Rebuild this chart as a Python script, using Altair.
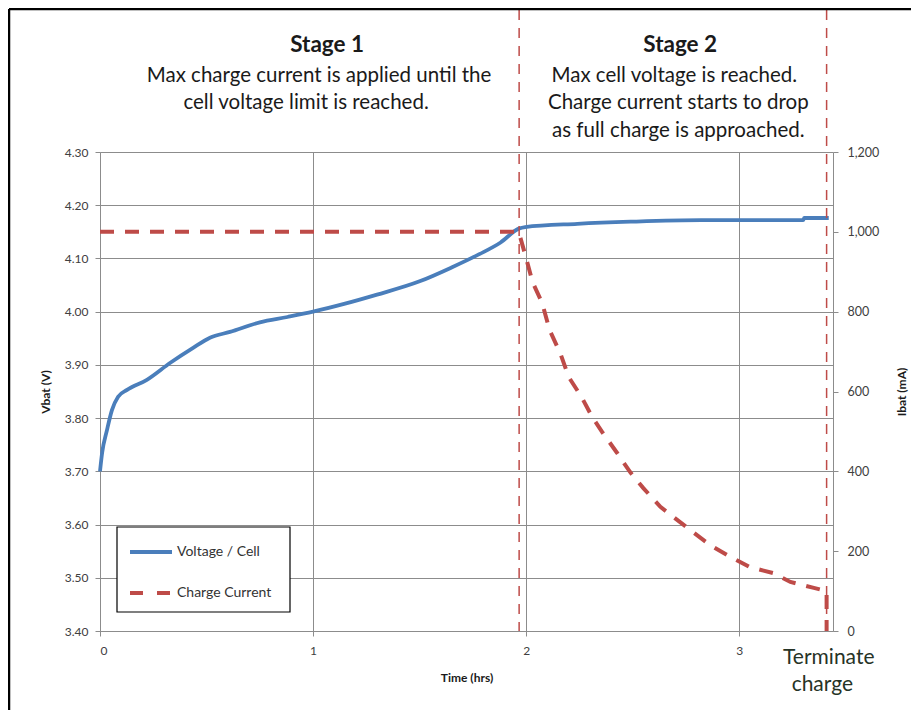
import altair as alt
import pandas as pd

# ---------------- data ----------------
time_v = [0, 0.01, 0.033, 0.056, 0.085, 0.127, 0.22, 0.33, 0.437, 0.516, 0.61, 0.75, 0.88,
          1.0, 1.15, 1.3, 1.5, 1.65, 1.78, 1.88, 1.965, 1.995, 2.24, 2.49, 2.82, 3.30, 3.305, 3.42]
volt = [3.70, 3.735, 3.778, 3.815, 3.84, 3.853, 3.872, 3.904, 3.932, 3.951, 3.962, 3.98, 3.99,
        4.00, 4.015, 4.032, 4.057, 4.083, 4.108, 4.13, 4.156, 4.159, 4.165, 4.169, 4.172, 4.172, 4.176, 4.176]

time_i = [0, 1.965, 2.0, 2.03, 2.075, 2.11, 2.16, 2.2, 2.26, 2.31, 2.36, 2.427, 2.488, 2.55,
          2.63, 2.69, 2.77, 2.864, 2.96, 3.05, 3.16, 3.24, 3.35, 3.41, 3.41]
curr = [1000, 1000, 934, 874, 822, 754, 696, 636, 586, 536, 496, 446, 398, 358,
        311, 286, 253, 215, 185, 160, 145, 123, 108, 100, 0]

series_names = ["Voltage / Cell", "Charge Current"]
stage_times = [1.967, 3.41]

stage_titles = ["Stage 1", "Stage 2"]
stage1_lines = ["Max charge current is applied until the", "cell voltage limit is reached."]
stage2_lines = ["Max cell voltage is reached.", "Charge current starts to drop", "as full charge is approached."]
end_lines = ["Terminate", "charge"]

v_ticks = [3.4, 3.5, 3.6, 3.7, 3.8, 3.9, 4.0, 4.1, 4.2, 4.3]
i_ticks = [0, 200, 400, 600, 800, 1000, 1200]
t_ticks = [0, 1, 2, 3]

# ---------------- layout / style ----------------
W, H = 733, 479
FONT = "Lato"
BLUE = "#4A7EBB"
RED = "#BE4B48"
GRID = "#8C8C8C"

title_pos = [(1.066, -107), (2.723, -107)]
s1_pos = [(1.028, -76), (0.967, -49)]
s2_pos = [(2.695, -76), (2.714, -49), (2.714, -21)]
end_pos = [(3.42, 506), (3.39, 533)]

# legend box geometry (plot-area pixels)
LEG_X0, LEG_X1, LEG_Y0, LEG_Y1 = 17, 190, 375, 460
LEG_SYM_X0, LEG_SYM_X1, LEG_TXT_X = 30, 72, 77
LEG_ROWS = [400, 441]

df_v = pd.DataFrame({"t": time_v, "val": volt, "series": series_names[0]})
df_i = pd.DataFrame({"t": time_i, "val": curr, "series": series_names[1]})
df_rules = pd.DataFrame({"t": stage_times})
df_one = pd.DataFrame({"k": [0]})

def text_df(lines, pos):
    return pd.DataFrame({"text": lines, "t": [p[0] for p in pos], "py": [p[1] for p in pos]})

x_scale = alt.Scale(domain=[0, 3.44], nice=False, zero=False)

x_enc = alt.X("t:Q", scale=x_scale,
              axis=alt.Axis(values=t_ticks, title="Time (hrs)", format="d", grid=True,
                            labelPadding=9, titlePadding=16))

volt_line = alt.Chart(df_v).mark_line(strokeWidth=3.8, interpolate="monotone", color=BLUE).encode(
    x=x_enc,
    y=alt.Y("val:Q", scale=alt.Scale(domain=[3.4, 4.3], nice=False, zero=False),
            axis=alt.Axis(values=v_ticks, format=".2f", title="Vbat (V)", grid=True,
                          labelPadding=7, titlePadding=12)),
)

curr_line = alt.Chart(df_i).mark_line(strokeWidth=4, color=RED, strokeDash=[14, 11]).encode(
    x=alt.X("t:Q", scale=x_scale),
    y=alt.Y("val:Q", scale=alt.Scale(domain=[0, 1200], nice=False),
            axis=alt.Axis(values=i_ticks, format=",.0f", title="Ibat (mA)", orient="right",
                          grid=False, labelPadding=9, titlePadding=30, titleAngle=270,
                          labelFontSize=12.5)),
)

rules = alt.Chart(df_rules).mark_rule(color=RED, strokeWidth=1.5, strokeDash=[10, 8]).encode(
    x=alt.X("t:Q", scale=x_scale),
    y=alt.value(-142), y2=alt.value(H),
)

def text_layer(df, size, weight="normal", color="#1a1a1a"):
    return alt.Chart(df).mark_text(font=FONT, fontSize=size, fontWeight=weight, color=color,
                                   align="center", baseline="middle").encode(
        x=alt.X("t:Q", scale=x_scale),
        y=alt.Y("py:Q", scale=None),
        text="text:N",
    )

titles = text_layer(text_df(stage_titles, title_pos), 22.5, "bold")
s1 = text_layer(text_df(stage1_lines, s1_pos), 20.5)
s2 = text_layer(text_df(stage2_lines, s2_pos), 20.5)
ends = text_layer(text_df(end_lines, end_pos), 21, color="#263326")

# manual legend
leg_box = alt.Chart(df_one).mark_rect(fill="white", stroke="black", strokeWidth=1.2).encode(
    x=alt.value(LEG_X0), x2=alt.value(LEG_X1), y=alt.value(LEG_Y0), y2=alt.value(LEG_Y1))
leg_blue = alt.Chart(df_one).mark_rule(color=BLUE, strokeWidth=3.8).encode(
    x=alt.value(LEG_SYM_X0), x2=alt.value(LEG_SYM_X1), y=alt.value(LEG_ROWS[0]))
leg_red = alt.Chart(df_one).mark_rule(color=RED, strokeWidth=4, strokeDash=[13, 14]).encode(
    x=alt.value(LEG_SYM_X0), x2=alt.value(LEG_SYM_X1), y=alt.value(LEG_ROWS[1]))
leg_text = alt.Chart(pd.DataFrame({"text": series_names, "py": LEG_ROWS})).mark_text(
    font=FONT, fontSize=14, color="#333333", align="left", baseline="middle").encode(
    x=alt.value(LEG_TXT_X), y=alt.Y("py:Q", scale=None), text="text:N")

frame_top = alt.Chart(df_one).mark_rule(color="black", strokeWidth=2.5).encode(
    x=alt.value(-91), x2=alt.value(W + 78), y=alt.value(-143))
frame_left = alt.Chart(df_one).mark_rule(color="black", strokeWidth=2.5).encode(
    x=alt.value(-91), y=alt.value(-143), y2=alt.value(H + 80))

chart = alt.layer(
    volt_line, curr_line, rules, titles, s1, s2, ends,
    leg_box, leg_blue, leg_red, leg_text, frame_top, frame_left
).resolve_scale(y="independent").properties(
    width=W, height=H,
    autosize=alt.AutoSizeParams(type="none"),
    padding={"left": 92, "top": 144, "right": 78, "bottom": 79},
).configure_view(stroke="transparent").configure_axis(
    labelFont=FONT, labelFontSize=12, labelColor="#404040",
    titleFont=FONT, titleFontSize=12, titleFontWeight="bold", titleColor="#1a1a1a",
    domainColor=GRID, tickColor=GRID, gridColor=GRID, tickSize=5,
)

chart.save("out.html", embed_options={"renderer": "svg", "actions": False})
